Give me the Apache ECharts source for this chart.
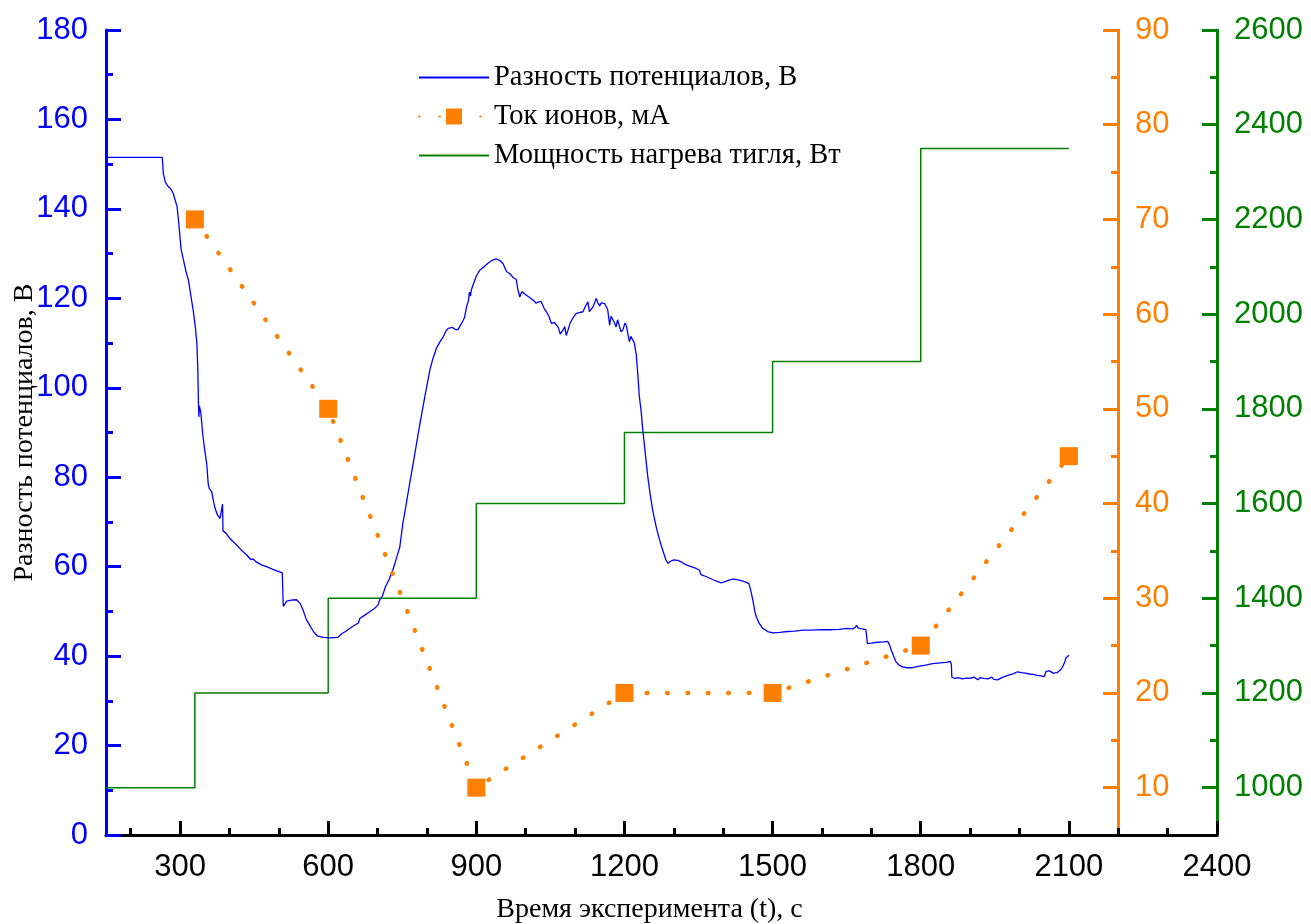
<!DOCTYPE html>
<html>
<head>
<meta charset="utf-8">
<script src="https://cdn.jsdelivr.net/npm/echarts@6/dist/echarts.min.js"></script>
<style>
  html, body { margin: 0; padding: 0; background: #ffffff; }
  #chart { width: 1311px; height: 924px; }
</style>
</head>
<body>
<div id="chart"></div>
<script>
// Potential difference trace, time in seconds
const timeSec = [
  150, 264, 266, 270, 276, 281, 286, 290, 294, 298, 302, 307, 312, 317, 322, 327, 331, 334, 336, 337,
  338, 339, 342, 346, 350, 354, 357, 359, 364, 368, 371, 376, 381, 385, 386, 387, 393, 401, 408, 415,
  425, 435, 443, 448, 455, 465, 475, 488, 500, 507, 509, 512, 516, 525, 536, 543, 549, 556, 563, 570,
  578, 590, 605, 620, 624, 627, 635, 645, 655, 661, 664, 672, 684, 693, 701, 704, 710, 716, 724, 731,
  738, 745, 751, 758, 765, 772, 779, 785, 792, 799, 806, 812, 819, 826, 833, 838, 843, 847, 852, 858,
  863, 868, 873, 876, 880, 884, 886, 888, 890, 895, 900, 907, 915, 923, 932, 940, 947, 954, 958, 961,
  968, 975, 981, 984, 988, 992, 996, 1000, 1004, 1008, 1012, 1017, 1021, 1026, 1031, 1035, 1038, 1042, 1047, 1052,
  1058, 1062, 1066, 1070, 1072, 1076, 1079, 1082, 1086, 1090, 1095, 1099, 1102, 1108, 1112, 1116, 1120, 1124, 1126, 1129,
  1132, 1136, 1140, 1143, 1146, 1150, 1153, 1156, 1160, 1163, 1166, 1170, 1173, 1176, 1180, 1183, 1186, 1189, 1193, 1197,
  1201, 1204, 1207, 1210, 1213, 1216, 1220, 1224, 1227, 1230, 1234, 1237, 1242, 1247, 1252, 1257, 1264, 1271, 1278, 1284,
  1288, 1293, 1300, 1308, 1316, 1325, 1335, 1345, 1352, 1355, 1365, 1375, 1385, 1396, 1405, 1412, 1419, 1428, 1438, 1447,
  1452, 1456, 1460, 1464, 1467, 1472, 1480, 1490, 1500, 1515, 1530, 1545, 1561, 1580, 1600, 1620, 1635, 1650, 1662, 1667,
  1670, 1673, 1680, 1689, 1691, 1692, 1700, 1712, 1725, 1733, 1737, 1740, 1745, 1750, 1756, 1763, 1772, 1783, 1795, 1810,
  1824, 1840, 1852, 1860, 1862, 1863, 1866, 1869, 1872, 1876, 1880, 1884, 1888, 1892, 1896, 1900, 1904, 1908, 1912, 1916,
  1920, 1924, 1928, 1932, 1936, 1940, 1944, 1948, 1952, 1956, 1960, 1964, 1968, 1972, 1976, 1980, 1984, 1988, 1992, 1996,
  2000, 2004, 2008, 2012, 2016, 2020, 2024, 2028, 2032, 2036, 2040, 2044, 2047, 2050, 2054, 2058, 2061, 2064, 2068, 2072,
  2076, 2080, 2084, 2088, 2091, 2094, 2097, 2100
];
// Potential difference, V
const voltage = [
  151.5, 151.5, 148, 146, 145, 144.5, 143.5, 142, 140.5, 136, 131, 128.5, 126, 124, 120.5, 117, 113.5, 110, 104, 97.5,
  93.5, 96, 94.5, 89.5, 86, 83, 78.5, 77.5, 76.8, 74.5, 73, 71.5, 70.8, 70.5, 74, 68, 67.5, 66.3, 65.5, 64.8,
  63.6, 62.6, 61.6, 61.7, 61, 60.4, 60, 59.4, 58.9, 58.6, 51.1, 51.6, 52.3, 52.5, 52.6, 51.8, 50.3, 48.1, 46.8, 45.5,
  44.5, 44.2, 44.1, 44.2, 44.3, 45, 45.5, 46.3, 47, 47.4, 48.4, 49, 49.9, 50.6, 51.4, 52.5, 53.5, 55.5, 57.3, 59.3,
  61.8, 64.4, 69.5, 74, 78.6, 83, 87.6, 91.5, 95.8, 100, 104, 106.5, 108.8, 110.2, 111.4, 112.6, 113.3, 113, 113.5, 113,
  113, 114, 115, 115.7, 118, 119.5, 121.4, 120.5, 121.9, 123.5, 125, 126.3, 127, 127.8, 128.5, 128.8, 128.5, 127.8, 127.5, 126,
  125.5, 124.6, 124.2, 122, 120.3, 121.5, 121.8, 120.8, 120.8, 120.2, 120.3, 119.4, 118.9, 119.2, 119.3, 118.9, 117.6, 117, 116, 114.4,
  114.6, 114.4, 113.5, 112, 111.6, 113, 113.7, 111.7, 113, 114.5, 115.5, 115.8, 116.6, 116.8, 117.2, 117, 118, 117.8, 119.2, 117,
  117.5, 118, 118.4, 120, 119, 118.3, 119, 119.2, 118.8, 118.9, 117.5, 114, 116, 115.9, 114.5, 113.6, 115.2, 115, 112.5, 113,
  114.5, 113.8, 112, 110.3, 111.5, 111.8, 110, 107.3, 103, 98.2, 94.5, 90.7, 85.5, 80.3, 76.2, 72.7, 69, 66, 63.5, 61.5,
  60.7, 61.2, 61.5, 61.4, 61, 60.4, 60, 59.6, 59.2, 58.2, 57.8, 57.3, 56.8, 56.4, 56.7, 57, 57.2, 57.1, 56.8, 56.5,
  56.2, 54.6, 52.5, 50, 48.8, 47.5, 46.2, 45.5, 45.2, 45.3, 45.5, 45.6, 45.8, 45.8, 45.9, 45.9, 46, 46.2, 46.1, 46.4,
  46.9, 46.3, 46.1, 45.9, 45.5, 42.8, 42.9, 43.1, 43.2, 43.3, 42.5, 41.4, 40, 38.7, 38, 37.6, 37.4, 37.4, 37.7, 38,
  38.3, 38.5, 38.6, 38.8, 38.2, 35.3, 35.6, 35, 35.4, 35.2, 35.5, 34.9, 35.3, 35.1, 35.4, 35, 34.8, 35.3, 35, 34.7,
  35.2, 35.4, 35, 35.3, 34.9, 35.1, 35.3, 34.8, 35.2, 34.7, 34.9, 35.2, 35.2, 35.5, 35.4, 35.8, 35.9, 36.1, 36.3, 36.5,
  36.5, 36.3, 36.1, 36.2, 35.9, 36, 35.8, 35.9, 35.5, 35.7, 35.4, 35.6, 35.3, 35.4, 36.6, 36.9, 36.7, 36.5, 36.2, 36,
  36.3, 36.5, 37, 37.8, 38.5, 39.6, 40, 40.2
];

// Ion current, mA
const ionTime = [330, 600, 900, 1200, 1500, 1800, 2100];
const ionCurrent = [70, 50, 10, 20, 20, 25, 45];

// Crucible heating power, W (stepwise)
const powerTime = [150, 330, 600, 900, 1200, 1500, 1800, 2100];
const power = [1000, 1200, 1400, 1600, 1750, 1900, 2350, 2350];

// Tick positions
const xMajorTicks = [300, 600, 900, 1200, 1500, 1800, 2100, 2400];
const xMinorTicks = [200, 400, 500, 700, 800, 1000, 1100, 1300, 1400, 1600, 1700, 1900, 2000, 2200, 2300];
const currentMajorTicks = [10, 20, 30, 40, 50, 60, 70, 80, 90];
const currentMinorTicks = [15, 25, 35, 45, 55, 65, 75, 85];
const powerMajorTicks = [1000, 1200, 1400, 1600, 1800, 2000, 2200, 2400, 2600];
const powerMinorTicks = [1100, 1300, 1500, 1700, 1900, 2100, 2300, 2500];

const seriesNames = ['Разность потенциалов, В', 'Ток ионов, мА', 'Мощность нагрева тигля, Вт'];

const BLUE = '#0000ff';
const ORANGE = '#ff8000';
const GREEN = '#008000';
const SANS = '"Liberation Sans", Arial, sans-serif';
const SERIF = '"Liberation Serif", "Times New Roman", serif';

const zip = (xs, ys) => xs.map((x, i) => [x, ys[i]]);
const plain = (v) => String(v);

const chart = echarts.init(document.getElementById('chart'), null, { renderer: 'canvas' });

const xBase = {
  type: 'value', min: 150, max: 2400, position: 'bottom',
  splitLine: { show: false }
};

const option = {
  backgroundColor: '#ffffff',
  animation: false,
  grid: { left: 106, right: 94, top: 30, bottom: 89, containLabel: false, outerBoundsMode: 'none' },
  legend: {
    left: 418, top: 63, orient: 'vertical', padding: 0,
    itemWidth: 70, itemHeight: 20, itemGap: 10,
    textStyle: { fontFamily: SERIF, fontSize: 28.5, color: '#000' },
    data: [
      { name: seriesNames[0], itemStyle: { opacity: 0 } },
      { name: seriesNames[1] },
      { name: seriesNames[2], itemStyle: { opacity: 0 } }
    ]
  },
  xAxis: [
    Object.assign({}, xBase, {
      name: 'Время эксперимента (t), с',
      nameLocation: 'middle', nameGap: 61, nameMoveOverlap: false,
      nameTextStyle: { fontFamily: SERIF, fontSize: 28, color: '#000', padding: [0, 24, 0, 0] },
      axisLine: { show: true, lineStyle: { color: '#000', width: 3 } },
      axisTick: { show: true, inside: true, length: 14, lineStyle: { color: '#000', width: 3 }, customValues: xMajorTicks },
      axisLabel: { fontFamily: SANS, fontSize: 31, color: '#000', margin: 17, formatter: plain, customValues: xMajorTicks }
    }),
    Object.assign({}, xBase, {
      axisLine: { show: false },
      axisTick: { show: true, inside: true, length: 7, lineStyle: { color: '#000', width: 3 }, customValues: xMinorTicks },
      axisLabel: { show: false }
    })
  ],
  yAxis: [
    {
      type: 'value', min: 0, max: 180, interval: 20, position: 'left',
      name: 'Разность потенциалов, В', nameLocation: 'middle', nameGap: 67, nameRotate: 90, nameMoveOverlap: false,
      nameTextStyle: { fontFamily: SERIF, fontSize: 28, color: '#000' },
      axisLine: { show: true, lineStyle: { color: BLUE, width: 3 } },
      axisTick: { show: true, inside: true, length: 15, lineStyle: { color: BLUE, width: 3 } },
      minorTick: { show: true, splitNumber: 2, length: 7, lineStyle: { color: BLUE, width: 3 } },
      axisLabel: { fontFamily: SANS, fontSize: 31, color: BLUE, margin: 18, formatter: plain },
      splitLine: { show: false }
    },
    {
      type: 'value', min: 5, max: 90, position: 'right', offset: -99,
      axisLine: { show: true, lineStyle: { color: ORANGE, width: 3 } },
      axisTick: { show: true, inside: true, length: 15, lineStyle: { color: ORANGE, width: 3 }, customValues: currentMajorTicks },
      axisLabel: { fontFamily: SANS, fontSize: 31, color: ORANGE, margin: 17, formatter: plain, customValues: currentMajorTicks },
      splitLine: { show: false }
    },
    {
      type: 'value', min: 5, max: 90, position: 'right', offset: -99,
      axisLine: { show: false },
      axisTick: { show: true, inside: true, length: 7, lineStyle: { color: ORANGE, width: 3 }, customValues: currentMinorTicks },
      axisLabel: { show: false },
      splitLine: { show: false }
    },
    {
      type: 'value', min: 900, max: 2600, position: 'right', offset: 0,
      axisLine: { show: true, lineStyle: { color: GREEN, width: 3 } },
      axisTick: { show: true, inside: true, length: 15, lineStyle: { color: GREEN, width: 3 }, customValues: powerMajorTicks },
      axisLabel: { fontFamily: SANS, fontSize: 31, color: GREEN, margin: 17, formatter: plain, customValues: powerMajorTicks },
      splitLine: { show: false }
    },
    {
      type: 'value', min: 900, max: 2600, position: 'right', offset: 0,
      axisLine: { show: false },
      axisTick: { show: true, inside: true, length: 7, lineStyle: { color: GREEN, width: 3 }, customValues: powerMinorTicks },
      axisLabel: { show: false },
      splitLine: { show: false }
    }
  ],
  series: [
    {
      name: seriesNames[0], type: 'line', xAxisIndex: 0, yAxisIndex: 0,
      data: zip(timeSec, voltage),
      showSymbol: false, symbol: 'none',
      lineStyle: { color: BLUE, width: 1.3 },
      itemStyle: { color: BLUE },
      z: 3
    },
    {
      name: seriesNames[1], type: 'line', xAxisIndex: 0, yAxisIndex: 1,
      data: zip(ionTime, ionCurrent),
      symbol: 'rect', symbolSize: 18, showSymbol: true,
      lineStyle: { color: ORANGE, width: 4.5, type: [0.6, 19.8], cap: 'round' },
      itemStyle: { color: ORANGE },
      z: 4
    },
    {
      name: seriesNames[2], type: 'line', xAxisIndex: 0, yAxisIndex: 3,
      data: zip(powerTime, power),
      step: 'end', showSymbol: false, symbol: 'none',
      lineStyle: { color: GREEN, width: 1.5 },
      itemStyle: { color: GREEN },
      z: 2
    }
  ]
};

chart.setOption(option);
</script>
</body>
</html>
